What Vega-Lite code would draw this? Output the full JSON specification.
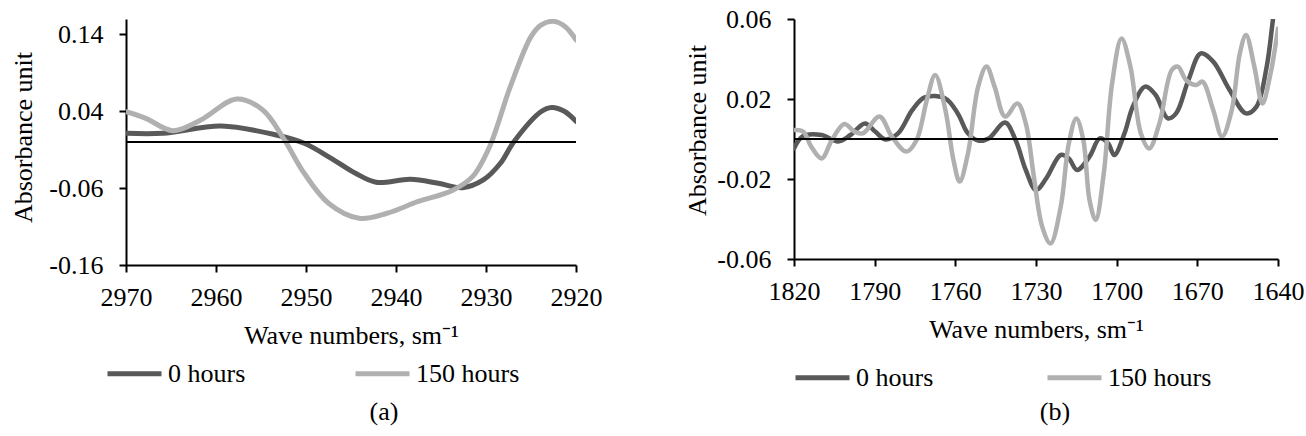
{
  "$schema": "https://vega.github.io/schema/vega-lite/v6.json",
  "background": "white",
  "padding": {"left": 9, "top": 6, "right": 5, "bottom": 5},
  "bounds": "flush",
  "spacing": 218,
  "config": {
    "view": {"stroke": null},
    "font": "Liberation Serif",
    "axis": {
      "labelFont": "Liberation Serif", "labelFontSize": 26, "labelColor": "black",
      "titleFont": "Liberation Serif", "titleFontSize": 26, "titleFontWeight": "normal", "titleColor": "black",
      "domainColor": "black", "domainWidth": 2, "tickColor": "black", "tickWidth": 2, "tickSize": 7,
      "grid": false, "labelFlush": false, "labelOverlap": false
    },
    "axisX": {"labelPadding": 12, "titlePadding": 12},
    "axisY": {"labelPadding": 16, "titleBaseline": "middle"},
    "title": {"font": "Liberation Serif", "fontSize": 26, "fontWeight": "normal", "color": "black"}
  },
  "resolve": {"legend": {"color": "independent"}},
  "hconcat": [
    {
      "width": 450, "height": 246,
      "title": {"text": "(a)", "orient": "bottom", "anchor": "middle", "frame": "group", "dx": 33, "offset": 12},
      "data": {"values": [
        {"series": "0 hours", "wavenumber": 2970, "absorbance": 0.0113},
        {"series": "0 hours", "wavenumber": 2965.9, "absorbance": 0.0113},
        {"series": "0 hours", "wavenumber": 2959.4, "absorbance": 0.0208},
        {"series": "0 hours", "wavenumber": 2953.3, "absorbance": 0.0091},
        {"series": "0 hours", "wavenumber": 2950.2, "absorbance": -0.0017},
        {"series": "0 hours", "wavenumber": 2947.2, "absorbance": -0.0212},
        {"series": "0 hours", "wavenumber": 2944.5, "absorbance": -0.0407},
        {"series": "0 hours", "wavenumber": 2942.2, "absorbance": -0.0524},
        {"series": "0 hours", "wavenumber": 2938.4, "absorbance": -0.0485},
        {"series": "0 hours", "wavenumber": 2935.3, "absorbance": -0.0537},
        {"series": "0 hours", "wavenumber": 2932.6, "absorbance": -0.0594},
        {"series": "0 hours", "wavenumber": 2930.3, "absorbance": -0.0494},
        {"series": "0 hours", "wavenumber": 2928.4, "absorbance": -0.0277},
        {"series": "0 hours", "wavenumber": 2926.9, "absorbance": 0.0004},
        {"series": "0 hours", "wavenumber": 2923.9, "absorbance": 0.0394},
        {"series": "0 hours", "wavenumber": 2922.7, "absorbance": 0.045},
        {"series": "0 hours", "wavenumber": 2921.3, "absorbance": 0.040},
        {"series": "0 hours", "wavenumber": 2920, "absorbance": 0.027},
        {"series": "150 hours", "wavenumber": 2970, "absorbance": 0.0394},
        {"series": "150 hours", "wavenumber": 2967.8, "absorbance": 0.0308},
        {"series": "150 hours", "wavenumber": 2964.8, "absorbance": 0.0147},
        {"series": "150 hours", "wavenumber": 2961.7, "absorbance": 0.0286},
        {"series": "150 hours", "wavenumber": 2957.7, "absorbance": 0.0559},
        {"series": "150 hours", "wavenumber": 2954.8, "absorbance": 0.0416},
        {"series": "150 hours", "wavenumber": 2952.5, "absorbance": 0.0046},
        {"series": "150 hours", "wavenumber": 2950.2, "absorbance": -0.0407},
        {"series": "150 hours", "wavenumber": 2947.5, "absorbance": -0.0797},
        {"series": "150 hours", "wavenumber": 2944.1, "absorbance": -0.0993},
        {"series": "150 hours", "wavenumber": 2941.0, "absorbance": -0.0927},
        {"series": "150 hours", "wavenumber": 2937.6, "absorbance": -0.0777},
        {"series": "150 hours", "wavenumber": 2933.8, "absorbance": -0.0634},
        {"series": "150 hours", "wavenumber": 2931.5, "absorbance": -0.0451},
        {"series": "150 hours", "wavenumber": 2929.6, "absorbance": -0.0061},
        {"series": "150 hours", "wavenumber": 2927.3, "absorbance": 0.0719},
        {"series": "150 hours", "wavenumber": 2925.0, "absorbance": 0.137},
        {"series": "150 hours", "wavenumber": 2923.9, "absorbance": 0.152},
        {"series": "150 hours", "wavenumber": 2922.5, "absorbance": 0.157},
        {"series": "150 hours", "wavenumber": 2921.2, "absorbance": 0.150},
        {"series": "150 hours", "wavenumber": 2920, "absorbance": 0.133}
      ]},
      "layer": [
        {
          "mark": {"type": "line", "interpolate": "catmull-rom", "strokeWidth": 5, "strokeCap": "round", "strokeJoin": "round", "clip": true},
          "encoding": {
            "x": {"field": "wavenumber", "type": "quantitative",
                  "scale": {"domain": [2970, 2920], "nice": false, "zero": false},
                  "axis": {"values": [2970, 2960, 2950, 2940, 2930, 2920], "format": "d", "title": "Wave numbers, sm⁻¹"}},
            "y": {"field": "absorbance", "type": "quantitative",
                  "scale": {"domain": [-0.16, 0.16], "nice": false, "zero": false},
                  "axis": {"values": [-0.16, -0.06, 0.04, 0.14], "title": "Absorbance unit", "titleX": -103, "titleY": 118,
                           "labelExpr": "datum.value < 0 ? '-' + format(-datum.value, '.2f') : format(datum.value, '.2f')"}},
            "color": {"field": "series", "type": "nominal",
                      "scale": {"domain": ["0 hours", "150 hours"], "range": ["#595959", "#b0b0b0"]},
                      "legend": {"orient": "none", "legendX": -21, "legendY": 325, "direction": "horizontal", "columns": 2,
                                 "title": null, "symbolType": "stroke", "symbolStrokeWidth": 5, "symbolSize": 2916,
                                 "labelFontSize": 26, "labelFont": "Liberation Serif", "labelColor": "black",
                                 "labelOffset": 4, "columnPadding": 99, "padding": 0, "labelLimit": 300}}
          }
        },
        {
          "mark": {"type": "rule", "color": "black", "strokeWidth": 2},
          "encoding": {"y": {"datum": 0, "type": "quantitative"}}
        }
      ]
    },
    {
      "width": 484, "height": 240,
      "title": {"text": "(b)", "orient": "bottom", "anchor": "middle", "frame": "group", "dx": 19, "offset": 8},
      "data": {"values": [
        {"series": "0 hours", "wavenumber": 1820, "absorbance": -0.0047},
        {"series": "0 hours", "wavenumber": 1816.6, "absorbance": 0.0015},
        {"series": "0 hours", "wavenumber": 1809.7, "absorbance": 0.002},
        {"series": "0 hours", "wavenumber": 1803.6, "absorbance": -0.0013},
        {"series": "0 hours", "wavenumber": 1799.0, "absorbance": 0.002},
        {"series": "0 hours", "wavenumber": 1793.6, "absorbance": 0.0078},
        {"series": "0 hours", "wavenumber": 1789.8, "absorbance": 0.0037},
        {"series": "0 hours", "wavenumber": 1786.0, "absorbance": -0.0002},
        {"series": "0 hours", "wavenumber": 1781.3, "absorbance": 0.0028},
        {"series": "0 hours", "wavenumber": 1776.0, "absorbance": 0.0145},
        {"series": "0 hours", "wavenumber": 1771.4, "absorbance": 0.0208},
        {"series": "0 hours", "wavenumber": 1763.7, "absorbance": 0.0203},
        {"series": "0 hours", "wavenumber": 1759.1, "absorbance": 0.0128},
        {"series": "0 hours", "wavenumber": 1755.3, "absorbance": 0.0028},
        {"series": "0 hours", "wavenumber": 1751.5, "absorbance": -0.0008},
        {"series": "0 hours", "wavenumber": 1747.6, "absorbance": 0.0003},
        {"series": "0 hours", "wavenumber": 1741.5, "absorbance": 0.0082},
        {"series": "0 hours", "wavenumber": 1737.6, "absorbance": -0.0005},
        {"series": "0 hours", "wavenumber": 1733.8, "absorbance": -0.0155},
        {"series": "0 hours", "wavenumber": 1730.0, "absorbance": -0.0255},
        {"series": "0 hours", "wavenumber": 1726.2, "absorbance": -0.0197},
        {"series": "0 hours", "wavenumber": 1720.8, "absorbance": -0.008},
        {"series": "0 hours", "wavenumber": 1717.8, "absorbance": -0.0097},
        {"series": "0 hours", "wavenumber": 1714.7, "absorbance": -0.0155},
        {"series": "0 hours", "wavenumber": 1710.1, "absorbance": -0.0088},
        {"series": "0 hours", "wavenumber": 1706.3, "absorbance": 0.0003},
        {"series": "0 hours", "wavenumber": 1703.2, "absorbance": -0.0022},
        {"series": "0 hours", "wavenumber": 1700.9, "absorbance": -0.008},
        {"series": "0 hours", "wavenumber": 1697.1, "absorbance": 0.0028},
        {"series": "0 hours", "wavenumber": 1694.0, "absorbance": 0.0162},
        {"series": "0 hours", "wavenumber": 1689.4, "absorbance": 0.0262},
        {"series": "0 hours", "wavenumber": 1685.5, "absorbance": 0.022},
        {"series": "0 hours", "wavenumber": 1681.0, "absorbance": 0.0103},
        {"series": "0 hours", "wavenumber": 1677.9, "absorbance": 0.0128},
        {"series": "0 hours", "wavenumber": 1673.3, "absorbance": 0.0295},
        {"series": "0 hours", "wavenumber": 1668.7, "absorbance": 0.0428},
        {"series": "0 hours", "wavenumber": 1664.1, "absorbance": 0.0387},
        {"series": "0 hours", "wavenumber": 1658.0, "absorbance": 0.0245},
        {"series": "0 hours", "wavenumber": 1651.9, "absorbance": 0.0128},
        {"series": "0 hours", "wavenumber": 1648.0, "absorbance": 0.0162},
        {"series": "0 hours", "wavenumber": 1644.2, "absorbance": 0.0362},
        {"series": "0 hours", "wavenumber": 1641.9, "absorbance": 0.0595},
        {"series": "0 hours", "wavenumber": 1640, "absorbance": 0.08},
        {"series": "150 hours", "wavenumber": 1820, "absorbance": 0.0045},
        {"series": "150 hours", "wavenumber": 1816.6, "absorbance": 0.0037},
        {"series": "150 hours", "wavenumber": 1813.6, "absorbance": -0.0038},
        {"series": "150 hours", "wavenumber": 1809.7, "absorbance": -0.0097},
        {"series": "150 hours", "wavenumber": 1805.9, "absorbance": -0.0005},
        {"series": "150 hours", "wavenumber": 1801.3, "absorbance": 0.0075},
        {"series": "150 hours", "wavenumber": 1797.5, "absorbance": 0.0037},
        {"series": "150 hours", "wavenumber": 1794.4, "absorbance": 0.0028},
        {"series": "150 hours", "wavenumber": 1788.2, "absorbance": 0.0112},
        {"series": "150 hours", "wavenumber": 1783.6, "absorbance": 0.0012},
        {"series": "150 hours", "wavenumber": 1778.2, "absorbance": -0.0063},
        {"series": "150 hours", "wavenumber": 1774.4, "absorbance": -0.0005},
        {"series": "150 hours", "wavenumber": 1770.6, "absorbance": 0.0195},
        {"series": "150 hours", "wavenumber": 1767.5, "absorbance": 0.032},
        {"series": "150 hours", "wavenumber": 1763.7, "absorbance": 0.0145},
        {"series": "150 hours", "wavenumber": 1760.7, "absorbance": -0.0105},
        {"series": "150 hours", "wavenumber": 1758.4, "absorbance": -0.0213},
        {"series": "150 hours", "wavenumber": 1755.3, "absorbance": -0.0072},
        {"series": "150 hours", "wavenumber": 1751.5, "absorbance": 0.0262},
        {"series": "150 hours", "wavenumber": 1748.4, "absorbance": 0.0362},
        {"series": "150 hours", "wavenumber": 1745.4, "absorbance": 0.0262},
        {"series": "150 hours", "wavenumber": 1741.5, "absorbance": 0.0112},
        {"series": "150 hours", "wavenumber": 1736.9, "absorbance": 0.0178},
        {"series": "150 hours", "wavenumber": 1733.8, "absorbance": 0.0078},
        {"series": "150 hours", "wavenumber": 1730.8, "absorbance": -0.0188},
        {"series": "150 hours", "wavenumber": 1727.7, "absorbance": -0.0438},
        {"series": "150 hours", "wavenumber": 1724.6, "absorbance": -0.0522},
        {"series": "150 hours", "wavenumber": 1720.8, "absorbance": -0.0338},
        {"series": "150 hours", "wavenumber": 1717.8, "absorbance": -0.0022},
        {"series": "150 hours", "wavenumber": 1715.0, "absorbance": 0.0103},
        {"series": "150 hours", "wavenumber": 1712.4, "absorbance": -0.0005},
        {"series": "150 hours", "wavenumber": 1710.1, "absorbance": -0.0305},
        {"series": "150 hours", "wavenumber": 1707.8, "absorbance": -0.0405},
        {"series": "150 hours", "wavenumber": 1704.8, "absorbance": -0.0172},
        {"series": "150 hours", "wavenumber": 1701.7, "absorbance": 0.0278},
        {"series": "150 hours", "wavenumber": 1698.2, "absorbance": 0.0503},
        {"series": "150 hours", "wavenumber": 1694.9, "absorbance": 0.0362},
        {"series": "150 hours", "wavenumber": 1691.0, "absorbance": 0.0028},
        {"series": "150 hours", "wavenumber": 1687.9, "absorbance": -0.0047},
        {"series": "150 hours", "wavenumber": 1684.1, "absorbance": 0.0078},
        {"series": "150 hours", "wavenumber": 1679.5, "absorbance": 0.0345},
        {"series": "150 hours", "wavenumber": 1677.2, "absorbance": 0.0362},
        {"series": "150 hours", "wavenumber": 1674.2, "absorbance": 0.0295},
        {"series": "150 hours", "wavenumber": 1670.4, "absorbance": 0.027},
        {"series": "150 hours", "wavenumber": 1668.1, "absorbance": 0.0287},
        {"series": "150 hours", "wavenumber": 1664.1, "absorbance": 0.0145},
        {"series": "150 hours", "wavenumber": 1660.8, "absorbance": 0.0012},
        {"series": "150 hours", "wavenumber": 1657.2, "absorbance": 0.0145},
        {"series": "150 hours", "wavenumber": 1654.2, "absorbance": 0.0428},
        {"series": "150 hours", "wavenumber": 1651.9, "absorbance": 0.052},
        {"series": "150 hours", "wavenumber": 1648.8, "absorbance": 0.0362},
        {"series": "150 hours", "wavenumber": 1645.8, "absorbance": 0.0178},
        {"series": "150 hours", "wavenumber": 1643.0, "absorbance": 0.0312},
        {"series": "150 hours", "wavenumber": 1640, "absorbance": 0.0553}
      ]},
      "layer": [
        {
          "mark": {"type": "line", "interpolate": "catmull-rom", "strokeWidth": 4.5, "strokeCap": "round", "strokeJoin": "round", "clip": true},
          "encoding": {
            "x": {"field": "wavenumber", "type": "quantitative",
                  "scale": {"domain": [1820, 1640], "nice": false, "zero": false},
                  "axis": {"values": [1820, 1790, 1760, 1730, 1700, 1670, 1640], "format": "d", "title": "Wave numbers, sm⁻¹"}},
            "y": {"field": "absorbance", "type": "quantitative",
                  "scale": {"domain": [-0.06, 0.06], "nice": false, "zero": false},
                  "axis": {"values": [-0.06, -0.02, 0.02, 0.06], "title": "Absorbance unit", "titleX": -97, "titleY": 111,
                           "labelExpr": "datum.value < 0 ? '-' + format(-datum.value, '.2f') : format(datum.value, '.2f')"}},
            "color": {"field": "series", "type": "nominal",
                      "scale": {"domain": ["0 hours", "150 hours"], "range": ["#595959", "#b0b0b0"]},
                      "legend": {"orient": "none", "legendX": -1, "legendY": 329, "direction": "horizontal", "columns": 2,
                                 "title": null, "symbolType": "stroke", "symbolStrokeWidth": 5, "symbolSize": 2916,
                                 "labelFontSize": 26, "labelFont": "Liberation Serif", "labelColor": "black",
                                 "labelOffset": 4, "columnPadding": 103, "padding": 0, "labelLimit": 300}}
          }
        },
        {
          "mark": {"type": "rule", "color": "black", "strokeWidth": 2},
          "encoding": {"y": {"datum": 0, "type": "quantitative"}}
        }
      ]
    }
  ]
}
